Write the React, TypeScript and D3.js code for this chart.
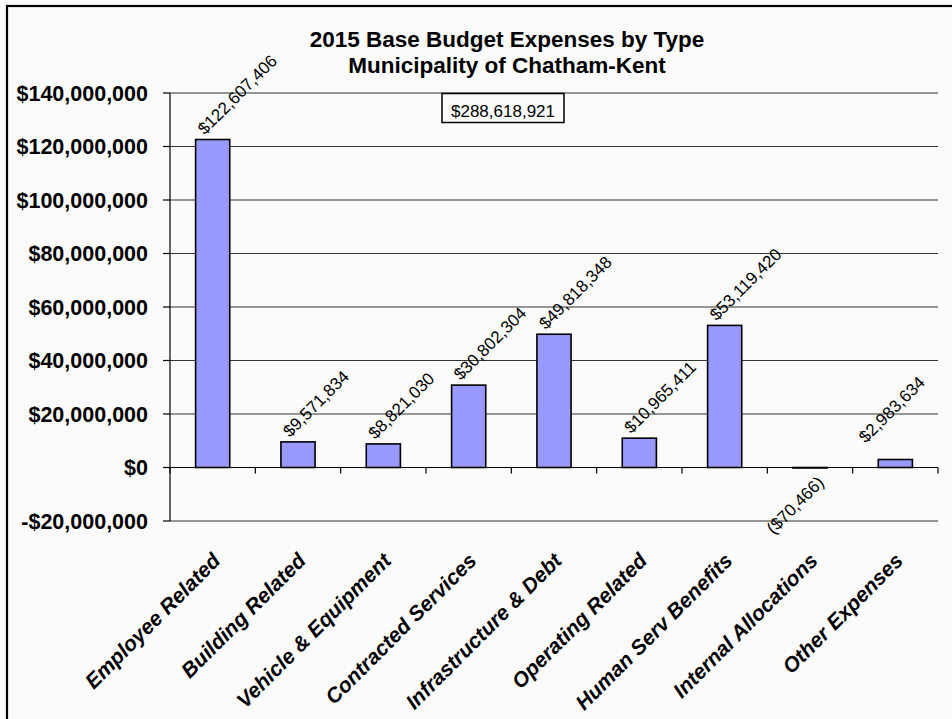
import React from "react";
import * as d3 from "d3";

const categories = [
  "Employee Related",
  "Building Related",
  "Vehicle & Equipment",
  "Contracted Services",
  "Infrastructure & Debt",
  "Operating Related",
  "Human Serv Benefits",
  "Internal Allocations",
  "Other Expenses",
];
const values = [
  122607406, 9571834, 8821030, 30802304, 49818348, 10965411, 53119420, -70466,
  2983634,
];
const yTicks = [
  -20000000, 0, 20000000, 40000000, 60000000, 80000000, 100000000, 120000000,
  140000000,
];
const titleLines = ["2015 Base Budget Expenses by Type", "Municipality of Chatham-Kent"];
const totalLabel = "$288,618,921";

const FONT = "'Liberation Sans', Arial, Helvetica, sans-serif";
const LABEL_SIZE = 17;

const money = (v: number) => {
  const s = "$" + d3.format(",")(Math.abs(v));
  return v < 0 ? `(${s})` : s;
};
const tickMoney = (v: number) =>
  (v < 0 ? "-$" : "$") + d3.format(",")(Math.abs(v));

// rough Arial width of a money string, in em
const textEm = (s: string) =>
  s.split("").reduce((a, ch) => a + (ch === "," ? 0.278 : ch === "(" || ch === ")" ? 0.333 : 0.556), 0);

const App = () => {
  const width = 952;
  const height = 719;
  const left = 170;
  const right = 938;
  const top = 93;
  const bottom = 521;

  const x = d3
    .scaleBand<string>()
    .domain(categories)
    .range([left, right])
    .paddingInner(0.6)
    .paddingOuter(0.3);
  const y = d3.scaleLinear().domain([-20000000, 140000000]).range([bottom, top]);
  const step = x.step();
  const y0 = y(0);

  return (
    <svg
      width={width}
      height={height}
      style={{ position: "absolute", left: 0, top: 0, background: "#fbfbfb" }}
      fontFamily={FONT}
    >
      <rect x={7} y={6} width={980} height={760} fill="none" stroke="#000" strokeWidth={2.2} />

      {/* title */}
      {titleLines.map((t, i) => (
        <text
          key={t}
          x={507}
          y={47 + i * 25.5}
          textAnchor="middle"
          fontSize={22.5}
          fontWeight="bold"
        >
          {t}
        </text>
      ))}

      {/* gridlines + y labels */}
      {yTicks.map((t) => (
        <g key={t}>
          <line x1={left} x2={right} y1={y(t)} y2={y(t)} stroke={t === 0 ? "#000" : "#333"} strokeWidth={1.2} />
          <line x1={left - 7} x2={left} y1={y(t)} y2={y(t)} stroke="#000" strokeWidth={1.2} />
          <text
            x={148}
            y={y(t)}
            dy="0.36em"
            textAnchor="end"
            fontSize={21.5}
            fontWeight="bold"
          >
            {tickMoney(t)}
          </text>
        </g>
      ))}
      <line x1={left} x2={left} y1={top} y2={bottom} stroke="#000" strokeWidth={1.2} />

      {/* category boundary ticks on the zero line */}
      {d3.range(0, categories.length + 1).map((i) => (
        <line
          key={i}
          x1={left + i * step}
          x2={left + i * step}
          y1={y0}
          y2={y0 + 6}
          stroke="#000"
          strokeWidth={1.2}
        />
      ))}

      {/* bars */}
      {categories.map((c, i) => {
        const v = values[i];
        const y1 = Math.min(y(v), y0);
        const h = Math.max(Math.abs(y(v) - y0), 0.5);
        return (
          <rect
            key={c}
            x={x(c)}
            y={y1}
            width={x.bandwidth()}
            height={h}
            fill="#9999ff"
            stroke="#000"
            strokeWidth={1.6}
          />
        );
      })}

      {/* value labels */}
      {categories.map((c, i) => {
        const v = values[i];
        const cx = (x(c) as number) + x.bandwidth() / 2;
        const label = money(v);
        if (v < 0) {
          return (
            <text
              key={c}
              transform={`translate(${cx + 15},${y0 + 16}) rotate(-45)`}
              textAnchor="end"
              fontSize={LABEL_SIZE}
            >
              {label}
            </text>
          );
        }
        let sx = cx - 8;
        let sy = y(v) - 4;
        // keep the label inside the plot on the right
        const endX = sx + textEm(label) * LABEL_SIZE * Math.SQRT1_2;
        const over = endX - (right - 12);
        if (over > 0) {
          sx -= over;
          sy -= over * 0.55;
        }
        return (
          <text
            key={c}
            transform={`translate(${sx},${sy}) rotate(-45)`}
            fontSize={LABEL_SIZE}
          >
            {label}
          </text>
        );
      })}

      {/* total box */}
      <rect x={442} y={93.5} width={122} height={29} fill="#fbfbfb" stroke="#000" strokeWidth={1.5} />
      <text x={503} y={117} textAnchor="middle" fontSize={17}>
        {totalLabel}
      </text>

      {/* category labels */}
      {categories.map((c) => {
        const cx = (x(c) as number) + x.bandwidth() / 2;
        return (
          <text
            key={c}
            transform={`translate(${cx + 9},${562}) rotate(-45)`}
            textAnchor="end"
            fontSize={21}
            fontWeight="bold"
            fontStyle="italic"
          >
            {c}
          </text>
        );
      })}
    </svg>
  );
};

export default App;
